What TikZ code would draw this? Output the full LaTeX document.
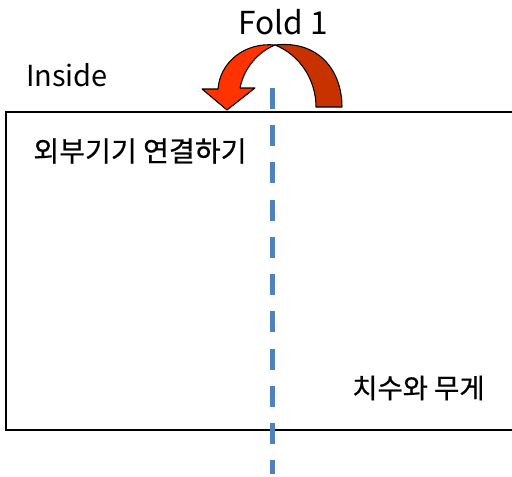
\documentclass[tikz,border=0pt]{standalone}
\usepackage{fontspec}
\setmainfont{Noto Sans CJK KR}
\newfontfamily\hangul[FakeBold=0.6]{Noto Sans CJK KR}
\usetikzlibrary{positioning}
\definecolor{foldblue}{HTML}{4F81BD}
\definecolor{arrowfront}{HTML}{FF3300}
\definecolor{arrowback}{HTML}{C83200}

\begin{document}
\begin{tikzpicture}[x=0.02cm, y=-0.02cm,
    label/.style={inner sep=0pt, font=\fontsize{15pt}{17pt}\selectfont},
    korean/.style={label, anchor=west, font=\hangul\fontsize{16pt}{18pt}\selectfont},
    foldline/.style={draw=foldblue, line width=0.1cm, dash pattern=on 0.42cm off 0.325cm},
    sheet/.style={draw, line width=0.8pt},
    arrowpart/.style={draw=black, line width=0.6pt, line join=round}
]
    \useasboundingbox (0,0) rectangle (512,477);

    % Sheet (right side runs off the page)
    \draw[sheet] (512,112) -- (6,112) -- (6,430) -- (512,430);

    % Fold line
    \coordinate (foldtop) at (273,88);
    \coordinate (foldbot) at (273,474);
    \draw[foldline] (foldtop) -- (foldbot);

    % Fold arrow: back half
    \filldraw[arrowpart, fill=arrowback] (275,45) .. controls (318,40) and (342,70) .. (342,107)
        -- (316,107) .. controls (316,80) and (300,55) .. (275,45) -- cycle;

    % Fold arrow: front half with head
    \filldraw[arrowpart, fill=arrowfront] (275,45) .. controls (245,42) and (220,62) .. (218,89)
        -- (202,89) -- (227,110) -- (255,88) -- (240,88)
        .. controls (244,68) and (258,52) .. (275,45) -- cycle;

    % Texts
    \node[label, font=\fontsize{18pt}{20pt}\selectfont] (fold) at (283,22) {Fold 1};
    \node[label, font=\fontsize{16.5pt}{18pt}\selectfont] (inside) at (67,75) {Inside};
    \node[korean] (connect) at (33,151) {외부기기 연결하기};
    \node[korean, font=\hangul\fontsize{15.6pt}{18pt}\selectfont] (size) at (352,388) {치수와 무게};
\end{tikzpicture}
\end{document}
